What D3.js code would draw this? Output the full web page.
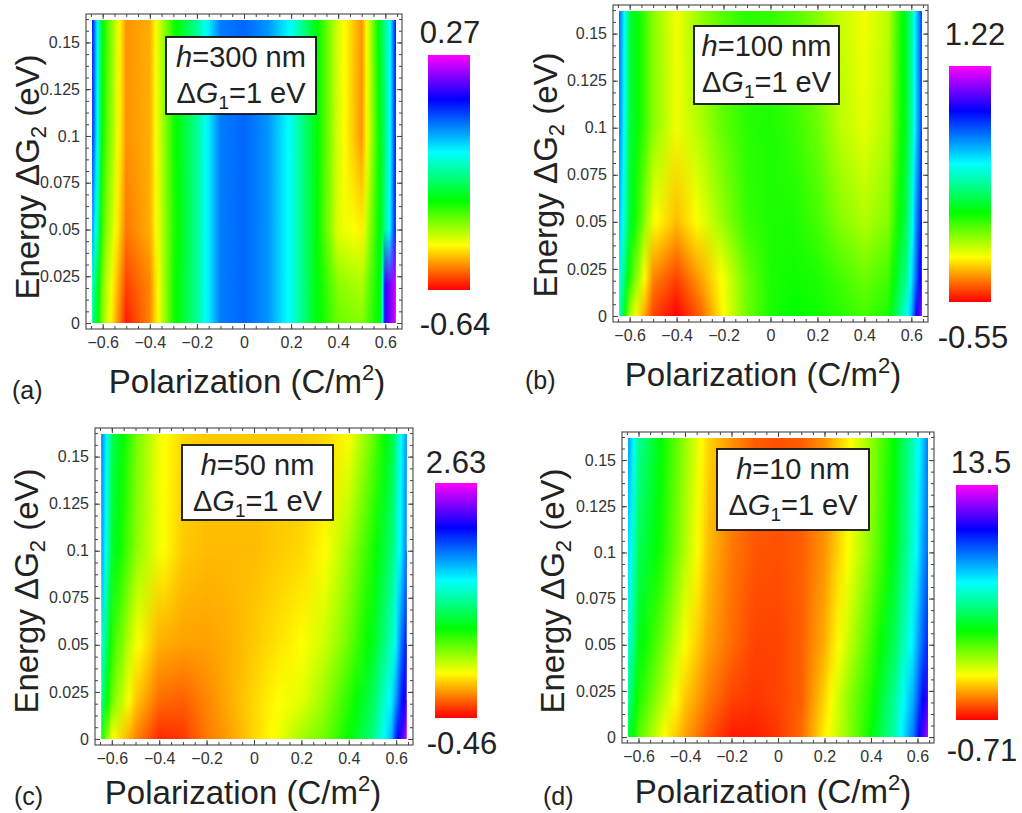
<!DOCTYPE html>
<html>
<head>
<meta charset="utf-8">
<script src="https://cdn.jsdelivr.net/npm/d3@7"></script>
<style>
  body { margin: 0; background: #fff; }
  svg { display: block; font-family: "Liberation Sans", Arial, sans-serif; }
</style>
</head>
<body>
<div id="chart"></div>
<script>
// grid columns (C/m^2) and rows (eV)
const polarization = [-0.645, -0.62, -0.6, -0.5, -0.4, -0.3, -0.2, -0.1, 0, 0.1, 0.2, 0.3, 0.4, 0.5, 0.58, 0.6, 0.62, 0.645];
const energy = [0, 0.02, 0.05, 0.1, 0.162];

// one row per energy value, bottom to top
const heatA = [
  [-0.185, -0.294, -0.394, -0.622, -0.549, -0.312, -0.185, -0.003, 0.015, -0.021, -0.121, -0.276, -0.367, -0.385, -0.276, 0.134, 0.179, 0.252],
  [-0.140, -0.276, -0.385, -0.595, -0.549, -0.312, -0.185, -0.003, 0.015, -0.021, -0.121, -0.276, -0.385, -0.413, -0.276, 0.134, 0.179, 0.243],
  [-0.021, -0.185, -0.349, -0.558, -0.522, -0.322, -0.185, -0.003, 0.015, -0.021, -0.121, -0.276, -0.449, -0.476, -0.276, -0.185, -0.094, 0.088],
  [0.070, -0.140, -0.312, -0.540, -0.522, -0.312, -0.185, -0.003, 0.015, -0.021, -0.121, -0.276, -0.440, -0.540, -0.276, -0.203, -0.112, 0.088],
  [0.088, -0.130, -0.294, -0.540, -0.522, -0.312, -0.185, -0.003, 0.015, -0.021, -0.112, -0.276, -0.440, -0.540, -0.258, -0.185, -0.112, 0.088]
];
const heatB = [
  [0.424, 0.123, -0.108, -0.462, -0.550, -0.426, -0.214, -0.019, 0.087, 0.123, 0.105, 0.070, 0.034, 0.087, 0.459, 0.601, 0.866, 1.096],
  [0.477, 0.264, 0.070, -0.373, -0.462, -0.338, -0.196, -0.019, 0.087, 0.105, 0.087, 0.034, -0.019, 0.034, 0.335, 0.512, 0.724, 0.955],
  [0.601, 0.388, 0.193, -0.196, -0.302, -0.196, -0.072, 0.052, 0.087, 0.087, 0.034, -0.054, -0.108, -0.054, 0.247, 0.424, 0.654, 0.866],
  [0.689, 0.441, 0.211, -0.054, -0.196, -0.108, -0.001, 0.070, 0.087, 0.052, -0.019, -0.125, -0.178, -0.108, 0.193, 0.335, 0.547, 0.795],
  [0.724, 0.459, 0.211, -0.054, -0.196, -0.072, 0.016, 0.070, 0.052, 0.016, -0.054, -0.143, -0.196, -0.125, 0.193, 0.335, 0.547, 0.778]
];
const heatC = [
  [0.714, 0.374, 0.158, -0.151, -0.367, -0.336, -0.182, -0.089, 0.034, 0.158, 0.343, 0.467, 0.714, 1.023, 1.549, 1.950, 2.167, 2.476],
  [1.085, 0.714, 0.467, 0.004, -0.213, -0.244, -0.151, -0.058, 0.034, 0.127, 0.189, 0.374, 0.622, 0.931, 1.394, 1.641, 1.950, 2.167],
  [1.332, 0.931, 0.622, 0.158, -0.058, -0.089, -0.089, -0.058, 0.004, 0.065, 0.127, 0.251, 0.467, 0.776, 1.178, 1.394, 1.703, 2.012],
  [1.641, 1.240, 0.838, 0.405, 0.158, 0.004, -0.027, -0.027, -0.027, 0.004, 0.034, 0.127, 0.343, 0.652, 0.992, 1.178, 1.394, 1.703],
  [1.703, 1.332, 0.931, 0.467, 0.158, 0.034, 0.004, 0.004, 0.004, 0.004, 0.004, 0.034, 0.127, 0.467, 0.838, 1.085, 1.332, 1.641]
];
const heatD = [
  [5.26, 4.69, 3.84, 2.13, 1.00, 0.14, -0.43, -0.43, -0.14, 0.43, 1.85, 3.13, 4.69, 6.68, 9.24, 10.37, 11.51, 12.65],
  [6.40, 5.26, 4.41, 2.84, 1.42, 0.57, 0.00, -0.14, 0.00, 0.29, 1.56, 3.13, 4.41, 6.40, 8.67, 9.52, 10.66, 11.51],
  [7.25, 6.11, 4.97, 3.55, 1.99, 1.00, 0.43, 0.00, 0.00, 0.29, 1.14, 2.56, 3.98, 5.69, 7.82, 8.67, 9.52, 10.37],
  [8.10, 6.82, 5.69, 4.41, 2.84, 1.28, 0.57, 0.21, 0.14, 0.29, 0.85, 1.99, 3.27, 4.97, 7.11, 7.82, 8.67, 9.52],
  [8.95, 7.53, 6.40, 4.69, 3.13, 1.56, 0.85, 0.29, 0.14, 0.29, 0.85, 1.85, 3.13, 4.69, 6.68, 7.39, 8.10, 9.24]
];

const colorMin = [-0.64, -0.55, -0.46, -0.71];
const colorMax = [0.27, 1.22, 2.63, 13.5];
const thickness = ["300", "100", "50", "10"];
const panelLetters = ["(a)", "(b)", "(c)", "(d)"];
const xTicks = [-0.6, -0.4, -0.2, 0, 0.2, 0.4, 0.6];
const yTicks = [0, 0.025, 0.05, 0.075, 0.1, 0.125, 0.15];

// Hue-like colour function: fraction of the bar -> colour
const hueStops = [0, 0.19, 0.38, 0.585, 0.81, 1];
const hueColors = ["#ff0000", "#ffff00", "#00ff00", "#00ffff", "#0000ff", "#ff00ff"];

const heats = [heatA, heatB, heatC, heatD];

// pixel layout of each panel
const layout = [
  { frame: [86, 14, 402, 329], bar: [428, 55, 470, 290], box: [166, 37, 316, 114],
    yLab: [27, 177], xLab: [247, 393], letter: [12, 399], top: [450, 43], bottom: [455, 335] },
  { frame: [613, 5, 928, 322], bar: [949, 66, 991, 302], box: [694, 26, 839, 104],
    yLab: [545, 175], xLab: [763, 386], letter: [525, 389], top: [975, 45], bottom: [973, 348] },
  { frame: [95, 428, 413, 745], bar: [435, 483, 477, 718], box: [182, 445, 333, 520],
    yLab: [26, 591], xLab: [243, 804], letter: [14, 805], top: [456, 473], bottom: [462, 754] },
  { frame: [622, 432, 934, 743], bar: [956, 485, 998, 720], box: [717, 449, 869, 530],
    yLab: [552, 591], xLab: [773, 803], letter: [543, 805], top: [981, 473], bottom: [982, 761] }
];

const textColor = "#222";
const svg = d3.select("#chart").append("svg").attr("width", 1022).attr("height", 813);
const defs = svg.append("defs");

// vertical ramp used to blend one row into the next
const ramp = defs.append("linearGradient").attr("id", "vramp")
  .attr("x1", 0).attr("y1", 1).attr("x2", 0).attr("y2", 0);
ramp.append("stop").attr("offset", 0).attr("stop-color", "#000");
ramp.append("stop").attr("offset", 1).attr("stop-color", "#fff");

const fmtX = (d) => (d < 0 ? "\u2212" : "") + Math.abs(d);
const fmtY = (d) => String(+d.toFixed(3));

heats.forEach((grid, k) => {
  const L = layout[k];
  const id = "p" + k;
  const x = d3.scaleLinear().domain([-0.671, 0.671]).range([L.frame[0], L.frame[2]]);
  const y = d3.scaleLinear().domain([-0.0032, 0.1652]).range([L.frame[3], L.frame[1]]);
  const lo = colorMin[k], hi = colorMax[k];
  const color = d3.scaleLinear()
    .domain(hueStops.map((t) => lo + t * (hi - lo)))
    .range(hueColors)
    .clamp(true);

  const x0 = x(polarization[0]);
  const x1 = x(polarization[polarization.length - 1]);
  const yTop = y(energy[energy.length - 1]);
  const yBot = y(energy[0]);

  defs.append("clipPath").attr("id", id + "clip")
    .append("rect")
    .attr("x", x0).attr("y", yTop)
    .attr("width", x1 - x0).attr("height", yBot - yTop);

  // horizontal gradient for each row of the grid
  grid.forEach((row, r) => {
    const grad = defs.append("linearGradient").attr("id", `${id}row${r}`)
      .attr("gradientUnits", "userSpaceOnUse")
      .attr("x1", x0).attr("x2", x1).attr("y1", 0).attr("y2", 0);
    grad.append("stop").attr("offset", 0).attr("stop-color", color(row[0]));
    for (let c = 1; c < row.length; c++) {
      const steps = 8;
      for (let s = 1; s <= steps; s++) {
        const f = s / steps;
        const px = x(polarization[c - 1] + f * (polarization[c] - polarization[c - 1]));
        grad.append("stop")
          .attr("offset", (px - x0) / (x1 - x0))
          .attr("stop-color", color(row[c - 1] + f * (row[c] - row[c - 1])));
      }
    }
  });

  const plot = svg.append("g").attr("clip-path", `url(#${id}clip)`);

  for (let r = 0; r < grid.length - 1; r++) {
    const ya = y(energy[r + 1]) - 0.6;
    const yb = y(energy[r]);
    defs.append("mask").attr("id", `${id}mask${r}`)
      .attr("maskUnits", "userSpaceOnUse")
      .append("rect")
      .attr("x", x0).attr("y", ya).attr("width", x1 - x0).attr("height", yb - ya)
      .attr("fill", "url(#vramp)");
    plot.append("rect")
      .attr("x", x0).attr("y", ya).attr("width", x1 - x0).attr("height", yb - ya)
      .attr("fill", `url(#${id}row${r})`);
    plot.append("rect")
      .attr("x", x0).attr("y", ya).attr("width", x1 - x0).attr("height", yb - ya)
      .attr("fill", `url(#${id}row${r + 1})`)
      .attr("mask", `url(#${id}mask${r})`);
  }

  // frame
  svg.append("rect")
    .attr("x", L.frame[0]).attr("y", L.frame[1])
    .attr("width", L.frame[2] - L.frame[0]).attr("height", L.frame[3] - L.frame[1])
    .attr("fill", "none").attr("stroke", "#555").attr("stroke-width", 1.2);

  const xMinor = d3.range(-13, 14).map((i) => i * 0.05).filter((v) => Math.abs(v) <= 0.66);
  const yMinor = d3.range(0, 27).map((i) => i * 0.00625);

  const styleAxis = (g) => {
    g.select(".domain").remove();
    g.selectAll(".tick line").attr("stroke", "#444");
    g.selectAll(".tick text").attr("fill", "#333").style("font-size", "16px")
      .style("font-family", '"Liberation Sans", Arial, sans-serif');
  };

  // minor ticks on all four sides
  svg.append("g").attr("transform", `translate(0,${L.frame[3]})`)
    .call(d3.axisBottom(x).tickValues(xMinor).tickSizeInner(-3).tickSizeOuter(0).tickFormat(""))
    .call(styleAxis);
  svg.append("g").attr("transform", `translate(0,${L.frame[1]})`)
    .call(d3.axisTop(x).tickValues(xMinor).tickSizeInner(-3).tickSizeOuter(0).tickFormat(""))
    .call(styleAxis);
  svg.append("g").attr("transform", `translate(${L.frame[0]},0)`)
    .call(d3.axisLeft(y).tickValues(yMinor).tickSizeInner(-3).tickSizeOuter(0).tickFormat(""))
    .call(styleAxis);
  svg.append("g").attr("transform", `translate(${L.frame[2]},0)`)
    .call(d3.axisRight(y).tickValues(yMinor).tickSizeInner(-3).tickSizeOuter(0).tickFormat(""))
    .call(styleAxis);

  // major ticks with labels
  svg.append("g").attr("transform", `translate(0,${L.frame[3]})`)
    .call(d3.axisBottom(x).tickValues(xTicks).tickSizeInner(-5).tickSizeOuter(0).tickPadding(8).tickFormat(fmtX))
    .call(styleAxis);
  svg.append("g").attr("transform", `translate(0,${L.frame[1]})`)
    .call(d3.axisTop(x).tickValues(xTicks).tickSizeInner(-5).tickSizeOuter(0).tickFormat(""))
    .call(styleAxis);
  svg.append("g").attr("transform", `translate(${L.frame[0]},0)`)
    .call(d3.axisLeft(y).tickValues(yTicks).tickSizeInner(-5).tickSizeOuter(0).tickPadding(6).tickFormat(fmtY))
    .call(styleAxis);
  svg.append("g").attr("transform", `translate(${L.frame[2]},0)`)
    .call(d3.axisRight(y).tickValues(yTicks).tickSizeInner(-5).tickSizeOuter(0).tickFormat(""))
    .call(styleAxis);

  // colour bar
  const barGrad = defs.append("linearGradient").attr("id", id + "bar")
    .attr("x1", 0).attr("y1", 1).attr("x2", 0).attr("y2", 0);
  hueStops.forEach((t) => {
    barGrad.append("stop").attr("offset", t).attr("stop-color", color(lo + t * (hi - lo)));
  });
  svg.append("rect")
    .attr("x", L.bar[0]).attr("y", L.bar[1])
    .attr("width", L.bar[2] - L.bar[0]).attr("height", L.bar[3] - L.bar[1])
    .attr("fill", `url(#${id}bar)`);

  svg.append("text").attr("x", L.top[0]).attr("y", L.top[1])
    .attr("text-anchor", "middle").attr("fill", textColor).style("font-size", "31px")
    .text(String(hi));
  svg.append("text").attr("x", L.bottom[0]).attr("y", L.bottom[1])
    .attr("text-anchor", "middle").attr("fill", textColor).style("font-size", "31px")
    .text(String(lo));

  // label box
  const bx = L.box;
  svg.append("rect")
    .attr("x", bx[0]).attr("y", bx[1])
    .attr("width", bx[2] - bx[0]).attr("height", bx[3] - bx[1])
    .attr("fill", "#fff").attr("stroke", "#111").attr("stroke-width", 1.8);
  const cx = (bx[0] + bx[2]) / 2;
  const t1 = svg.append("text").attr("x", cx).attr("y", bx[1] + 30)
    .attr("text-anchor", "middle").attr("fill", textColor).style("font-size", "29px");
  t1.append("tspan").style("font-style", "italic").text("h");
  t1.append("tspan").text(`=${thickness[k]} nm`);
  const t2 = svg.append("text").attr("x", cx).attr("y", bx[1] + 66)
    .attr("text-anchor", "middle").attr("fill", textColor).style("font-size", "29px");
  t2.append("tspan").text("\u0394");
  t2.append("tspan").style("font-style", "italic").text("G");
  t2.append("tspan").attr("dy", 6).style("font-size", "19px").text("1");
  t2.append("tspan").attr("dy", -6).text("=1 eV");

  // axis titles
  const yt = svg.append("text")
    .attr("transform", `translate(${L.yLab[0]},${L.yLab[1]}) rotate(-90)`)
    .attr("text-anchor", "middle").attr("dy", "0.35em")
    .attr("fill", textColor).style("font-size", "33px");
  yt.append("tspan").text("Energy \u0394G");
  yt.append("tspan").attr("dy", 7).style("font-size", "22px").text("2");
  yt.append("tspan").attr("dy", -7).text(" (eV)");

  const xt = svg.append("text").attr("x", L.xLab[0]).attr("y", L.xLab[1])
    .attr("text-anchor", "middle").attr("fill", textColor).style("font-size", "33px");
  xt.append("tspan").text("Polarization (C/m");
  xt.append("tspan").attr("dy", -13).style("font-size", "22px").text("2");
  xt.append("tspan").attr("dy", 13).text(")");

  svg.append("text").attr("x", L.letter[0]).attr("y", L.letter[1])
    .attr("fill", textColor).style("font-size", "25px")
    .text(panelLetters[k]);
});
</script>
</body>
</html>
